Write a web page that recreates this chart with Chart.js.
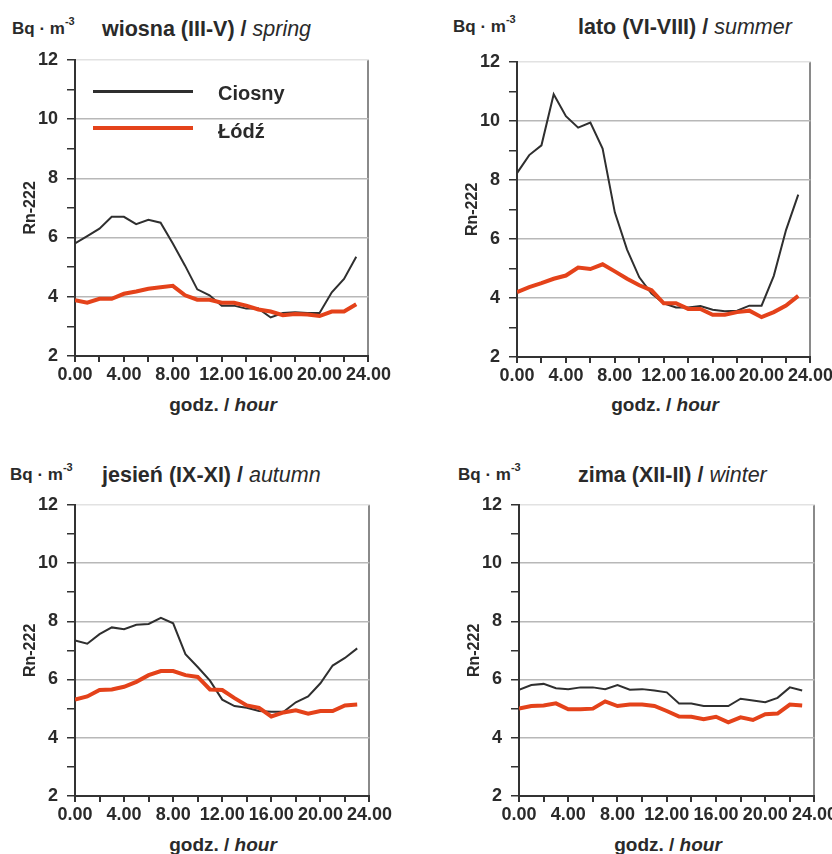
<!DOCTYPE html>
<html>
<head>
<meta charset="utf-8">
<script src="https://cdn.jsdelivr.net/npm/chart.js@4.4.1/dist/chart.umd.min.js"></script>
<style>
  html, body { margin: 0; padding: 0; background: #fff; overflow: hidden; }
  body { width: 832px; height: 854px; position: relative; font-family: "Liberation Sans", Arial, sans-serif; color: #2a2a2a; }
  .box { position: absolute; }
  .unit { position: absolute; font-weight: bold; font-size: 17px; line-height: 20px; white-space: nowrap; }
  .unit sup { font-size: 11px; line-height: 0; position: relative; top: -2px; }
  .ttl { position: absolute; font-weight: bold; font-size: 21.5px; line-height: 24px; white-space: nowrap; }
  .ttl i { font-weight: normal; }
  .xt { position: absolute; font-weight: bold; font-size: 19px; line-height: 22px; white-space: nowrap; transform: translateX(-50%); }
  .leg-line { position: absolute; left: 93px; width: 100px; }
  .leg-txt { position: absolute; left: 218px; font-weight: bold; font-size: 20px; line-height: 24px; }
</style>
</head>
<body>
<div class="unit" style="left:12px;top:19px">Bq · m<sup>-3</sup></div>
<div class="ttl" style="left:102px;top:17px">wiosna (III-V) / <i>spring</i></div>
<div class="unit" style="left:453px;top:17px">Bq · m<sup>-3</sup></div>
<div class="ttl" style="left:578px;top:15px">lato (VI-VIII) / <i>summer</i></div>
<div class="unit" style="left:10px;top:465px">Bq · m<sup>-3</sup></div>
<div class="ttl" style="left:102px;top:463px">jesień (IX-XI) / <i>autumn</i></div>
<div class="unit" style="left:458px;top:465px">Bq · m<sup>-3</sup></div>
<div class="ttl" style="left:578px;top:463px">zima (XII-II) / <i>winter</i></div>

<div class="box" id="p1"><canvas id="c1"></canvas></div>
<div class="box" id="p2"><canvas id="c2"></canvas></div>
<div class="box" id="p3"><canvas id="c3"></canvas></div>
<div class="box" id="p4"><canvas id="c4"></canvas></div>

<div class="xt" style="left:223px;top:394px">godz. / <i>hour</i></div>
<div class="xt" style="left:665px;top:394px">godz. / <i>hour</i></div>
<div class="xt" style="left:223px;top:834px">godz. / <i>hour</i></div>
<div class="xt" style="left:668px;top:834px">godz. / <i>hour</i></div>

<div class="leg-line" style="top:90px;height:2.5px;background:#2f2f2f"></div>
<div class="leg-txt" style="top:81px">Ciosny</div>
<div class="leg-line" style="top:126px;height:4px;background:#e4421a"></div>
<div class="leg-txt" style="top:119px">Łódź</div>

<script>
const hours = [0, 1, 2, 3, 4, 5, 6, 7, 8, 9, 10, 11, 12, 13, 14, 15, 16, 17, 18, 19, 20, 21, 22, 23];
const seriesNames = ["Ciosny", "Łódź"];

const ciosnySpring = [5.8, 6.05, 6.3, 6.7, 6.7, 6.45, 6.6, 6.5, 5.8, 5.05, 4.25, 4.05, 3.7, 3.7, 3.6, 3.6, 3.3, 3.45, 3.48, 3.45, 3.45, 4.15, 4.6, 5.35];
const lodzSpring   = [3.88, 3.8, 3.93, 3.93, 4.1, 4.18, 4.27, 4.32, 4.37, 4.05, 3.9, 3.9, 3.8, 3.8, 3.7, 3.57, 3.5, 3.38, 3.42, 3.4, 3.35, 3.5, 3.5, 3.75];

const ciosnySummer = [8.23, 8.84, 9.17, 10.9, 10.16, 9.77, 9.94, 9.06, 6.9, 5.64, 4.7, 4.15, 3.82, 3.68, 3.68, 3.73, 3.6, 3.55, 3.57, 3.74, 3.74, 4.75, 6.3, 7.5];
const lodzSummer   = [4.2, 4.37, 4.5, 4.65, 4.76, 5.03, 4.98, 5.14, 4.9, 4.65, 4.43, 4.26, 3.82, 3.82, 3.63, 3.63, 3.43, 3.43, 3.52, 3.57, 3.35, 3.52, 3.74, 4.07];

const ciosnyAutumn = [7.34, 7.23, 7.56, 7.79, 7.73, 7.88, 7.91, 8.12, 7.93, 6.87, 6.43, 5.96, 5.31, 5.09, 5.03, 4.92, 4.89, 4.89, 5.22, 5.42, 5.87, 6.48, 6.74, 7.07];
const lodzAutumn   = [5.31, 5.42, 5.64, 5.66, 5.75, 5.92, 6.15, 6.29, 6.29, 6.15, 6.09, 5.66, 5.64, 5.36, 5.11, 5.03, 4.73, 4.87, 4.94, 4.83, 4.92, 4.92, 5.11, 5.14];

const ciosnyWinter = [5.65, 5.81, 5.85, 5.7, 5.67, 5.73, 5.73, 5.67, 5.81, 5.65, 5.67, 5.62, 5.56, 5.18, 5.18, 5.09, 5.09, 5.09, 5.34, 5.28, 5.22, 5.37, 5.73, 5.62];
const lodzWinter   = [5.0, 5.09, 5.11, 5.18, 4.98, 4.98, 5.0, 5.25, 5.09, 5.14, 5.14, 5.09, 4.92, 4.73, 4.72, 4.64, 4.72, 4.53, 4.7, 4.61, 4.81, 4.83, 5.14, 5.11];

// plot area of each panel in page pixels
const panels = [
  { id: 1, left: 75, top: 52, right: 371, bottom: 356, c: ciosnySpring, l: lodzSpring },
  { id: 2, left: 517, top: 54, right: 813, bottom: 357, c: ciosnySummer, l: lodzSummer },
  { id: 3, left: 75, top: 497, right: 372, bottom: 796, c: ciosnyAutumn, l: lodzAutumn },
  { id: 4, left: 519, top: 497, right: 817, bottom: 796, c: ciosnyWinter, l: lodzWinter },
];

const Y_AXIS_W = 75, PAD_T = 12, PAD_R = 22, X_AXIS_H = 32;
const tickFont = { family: "'Liberation Sans Narrow', 'Liberation Sans', Arial", size: 18, weight: "bold" };
const ink = "#2a2a2a";

const toPoints = (vals) => hours.map((h, i) => ({ x: h, y: vals[i] }));

panels.forEach((p) => {
  const w = (p.right - p.left) + Y_AXIS_W + PAD_R;
  const h = (p.bottom - p.top) + PAD_T + X_AXIS_H;
  const box = document.getElementById("p" + p.id);
  box.style.left = (p.left - Y_AXIS_W) + "px";
  box.style.top = (p.top - PAD_T) + "px";
  const canvas = document.getElementById("c" + p.id);
  canvas.width = w;
  canvas.height = h;

  new Chart(canvas.getContext("2d"), {
    type: "line",
    data: {
      datasets: [
        { label: seriesNames[0], data: toPoints(p.c), borderColor: "#2f2f2f", borderWidth: 2, pointRadius: 0, order: 1 },
        { label: seriesNames[1], data: toPoints(p.l), borderColor: "#e4421a", borderWidth: 4, pointRadius: 0, order: 0 },
      ],
    },
    options: {
      responsive: false,
      animation: false,
      events: [],
      layout: { padding: { top: PAD_T, right: PAD_R, left: 0, bottom: 0 } },
      plugins: { legend: { display: false }, tooltip: { enabled: false } },
      scales: {
        x: {
          type: "linear",
          min: 0,
          max: 24,
          afterFit: (s) => { s.height = X_AXIS_H; },
          border: { display: true, color: "#333", width: 2 },
          grid: {
            drawOnChartArea: true,
            color: (ctx) => (ctx.tick && ctx.tick.value === 24 ? "#8a8a8a" : "rgba(0,0,0,0)"),
            lineWidth: 2,
            tickColor: "#333",
            tickLength: 6,
          },
          ticks: {
            stepSize: 2,
            autoSkip: false,
            maxRotation: 0,
            padding: 2,
            color: ink,
            font: tickFont,
            callback: (v) => (v % 4 === 0 ? v.toFixed(2) : ""),
          },
        },
        y: {
          min: 2,
          max: 12,
          afterFit: (s) => { s.width = Y_AXIS_W; },
          border: { display: true, color: "#333", width: 2 },
          grid: {
            color: (ctx) => {
              const v = ctx.tick ? ctx.tick.value : 0;
              if (v === 12) return "#e2e2e2";
              return v % 2 === 0 && v > 2 ? "#b8b8b8" : "rgba(0,0,0,0)";
            },
            lineWidth: 1.5,
            tickColor: "#333",
            tickLength: 8,
          },
          ticks: {
            stepSize: 1,
            padding: 9,
            color: ink,
            font: tickFont,
            callback: (v) => (v % 2 === 0 ? v : ""),
          },
          title: {
            display: true,
            text: "Rn-222",
            color: ink,
            font: { family: "'Liberation Sans', Arial", size: 16, weight: "bold" },
            padding: { top: 21, bottom: 0 },
          },
        },
      },
    },
  });
});
</script>
</body>
</html>
